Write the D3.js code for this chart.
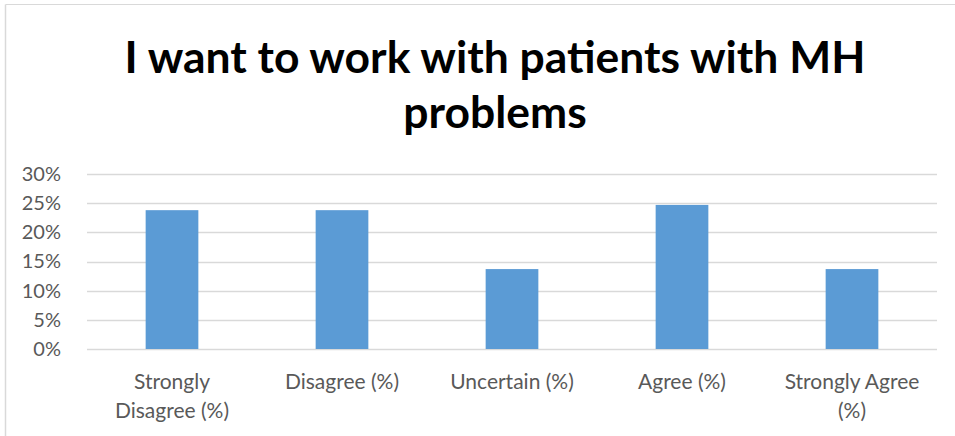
<!DOCTYPE html>
<html>
<head>
<meta charset="utf-8">
<script src="https://cdn.jsdelivr.net/npm/d3@7"></script>
<style>
  body { margin: 0; background: #fff; }
  text { font-family: Lato, "Open Sans", sans-serif; }
</style>
</head>
<body>
<svg id="chart" width="955" height="436"></svg>
<script>
// data
let categories = ["Strongly Disagree (%)", "Disagree (%)", "Uncertain (%)", "Agree (%)", "Strongly Agree (%)"];
let labelLines = [["Strongly", "Disagree (%)"], ["Disagree (%)"], ["Uncertain (%)"], ["Agree (%)"], ["Strongly Agree", "(%)"]];
let values = [23.8, 23.8, 13.7, 24.7, 13.7];
let yTicks = [0, 5, 10, 15, 20, 25, 30];
let titleLines = ["I want to work with patients with MH", "problems"];

let svg = d3.select("#chart"),
    pLeft = 87,
    pRight = 937,
    pTop = 174,
    pBottom = 349;

// chart frame (only top + left edges show)
svg.append("line").attr("x1", 5.5).attr("x2", 955).attr("y1", 4.5).attr("y2", 4.5)
    .attr("stroke", "#d9d9d9").attr("stroke-width", 1);
svg.append("line").attr("x1", 5.5).attr("x2", 5.5).attr("y1", 4.5).attr("y2", 436)
    .attr("stroke", "#d9d9d9").attr("stroke-width", 1.5);

let x = d3.scaleBand().domain(categories).range([pLeft, pRight])
    .paddingInner(0.69).paddingOuter(0.345);
let y = d3.scaleLinear().domain([0, 30]).range([pBottom, pTop]);

// title
let title = svg.append("text")
    .attr("text-anchor", "middle")
    .attr("font-weight", "bold")
    .attr("fill", "#000");
title.selectAll("tspan")
    .data(titleLines)
    .enter().append("tspan")
    .attr("x", 495)
    .attr("y", function(d, i) { return 73 + i * 55; })
    .text(function(d) { return d; });
// fit font size to the width of the first line
title.attr("font-size", "40px");
let w = title.select("tspan").node().getComputedTextLength();
title.attr("font-size", (40 * 741 / w) + "px");

// gridlines
let grid = svg.append("g");
grid.selectAll("line")
    .data(yTicks)
    .enter().append("line")
    .attr("x1", pLeft)
    .attr("x2", pRight)
    .attr("y1", function(d) { return Math.round(y(d)) + 0.5; })
    .attr("y2", function(d) { return Math.round(y(d)) + 0.5; })
    .attr("stroke", "#d9d9d9")
    .attr("stroke-width", 1.3);

// y axis labels
let yAxis = svg.append("g")
    .attr("transform", "translate(" + (pLeft - 23) + ",0)")
    .call(d3.axisLeft(y).tickValues(yTicks).tickSize(0).tickFormat(function(d) { return d + "%"; }));
yAxis.select(".domain").remove();
yAxis.selectAll("text")
    .attr("fill", "#595959")
    .attr("font-size", "20px")
    .attr("font-family", "Lato, sans-serif");

// bars
svg.selectAll(".bar")
    .data(values)
    .enter().append("rect")
    .attr("class", "bar")
    .attr("fill", "#5b9bd5")
    .attr("x", function(d, i) { return x(categories[i]); })
    .attr("y", function(d) { return y(d); })
    .attr("width", x.bandwidth())
    .attr("height", function(d) { return pBottom - y(d); });

// category labels
let labels = svg.append("g");
labels.selectAll("text")
    .data(labelLines)
    .enter().append("text")
    .attr("text-anchor", "middle")
    .attr("fill", "#595959")
    .attr("font-size", "21px")
    .each(function(lines, i) {
        let cx = x(categories[i]) + x.bandwidth() / 2;
        d3.select(this).selectAll("tspan")
            .data(lines)
            .enter().append("tspan")
            .attr("x", cx)
            .attr("y", function(d, j) { return 389 + j * 29; })
            .text(function(d) { return d; });
    });
</script>
</body>
</html>
